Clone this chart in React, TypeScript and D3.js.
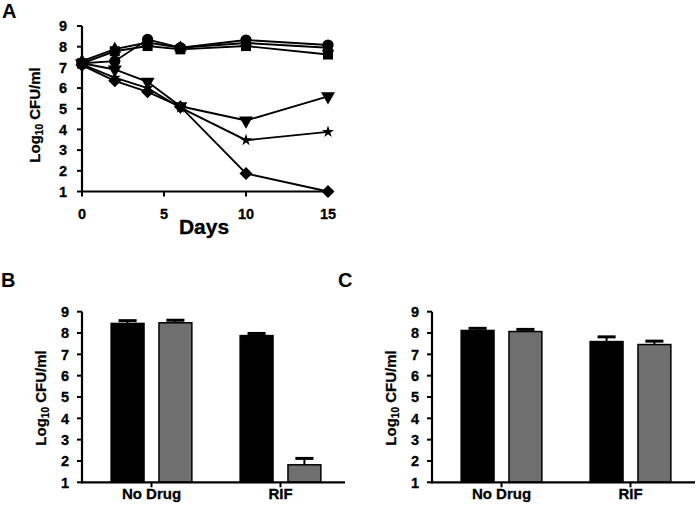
import React from "react";
import * as d3 from "d3";

const days = [0, 2, 4, 6, 10, 15];
const seriesNames = ["circle", "square", "triangleUp", "triangleDown", "star", "diamond"];
const circleVals = [7.2, 7.3, 8.35, 7.95, 8.32, 8.08];
const squareVals = [7.2, 7.78, 8.03, 7.87, 8.03, 7.62];
const triUpVals = [7.3, 7.88, 8.2, 7.95, 8.18, 7.95];
const triDownVals = [7.2, 6.9, 6.3, 5.12, 4.43, 5.6];
const starVals = [7.15, 6.5, 6.0, 5.05, 3.48, 3.88];
const diamondVals = [7.1, 6.35, 5.82, 5.1, 1.87, 1.0];
const allSeries = [circleVals, squareVals, triUpVals, triDownVals, starVals, diamondVals];

const yTicks = [1, 2, 3, 4, 5, 6, 7, 8, 9];
const xTicksA = [0, 5, 10, 15];

const barCategories = ["No Drug", "RIF"];
const bBlack = [8.45, 7.88];
const bBlackErr = [8.58, 7.98];
const bGray = [8.48, 1.82];
const bGrayErr = [8.6, 2.12];
const cBlack = [8.12, 7.6];
const cBlackErr = [8.22, 7.82];
const cGray = [8.07, 7.46];
const cGrayErr = [8.17, 7.62];

const FONT = "Arial, 'Liberation Sans', sans-serif";
const GRAY = "#6f6f6f";

function symbolFor(name: string) {
  switch (name) {
    case "circle": return d3.symbol(d3.symbolCircle, 100)();
    case "square": return d3.symbol(d3.symbolSquare, 100)();
    case "triangleUp": return d3.symbol(d3.symbolTriangle, 70)();
    case "triangleDown": return d3.symbol(d3.symbolTriangle, 85)();
    case "star": return d3.symbol(d3.symbolStar, 45)();
    case "diamond": return d3.symbol(d3.symbolSquare, 85)();
  }
  return "";
}

function YLabel({ x, y }: { x: number; y: number }) {
  return (
    <text
      transform={`translate(${x},${y}) rotate(-90)`}
      textAnchor="middle"
      fontFamily={FONT}
      fontWeight="bold"
      fontSize={15}
      stroke="#000"
      strokeWidth={0.25}
    >
      Log<tspan fontSize={10} dy={3}>10</tspan>
      <tspan dy={-3}> CFU/ml</tspan>
    </text>
  );
}

function YAxis({ y, x, gap }: { y: d3.ScaleLinear<number, number>; x: number; gap: number }) {
  const [r0, r1] = y.range();
  return (
    <g>
      <line x1={x} x2={x} y1={r0 + 1} y2={r1} stroke="#000" strokeWidth={2.2} />
      {yTicks.map((t) => (
        <g key={t}>
          <line x1={x - 5} x2={x} y1={y(t)} y2={y(t)} stroke="#000" strokeWidth={2} />
          <text
            x={x - gap}
            y={y(t)}
            dy="0.36em"
            textAnchor="end"
            fontFamily={FONT}
            fontWeight="bold"
            fontSize={14.5}
            stroke="#000"
            strokeWidth={0.3}
          >
            {t}
          </text>
        </g>
      ))}
    </g>
  );
}

function PanelA() {
  const x = d3.scaleLinear().domain([0, 15]).range([82, 328]);
  const y = d3.scaleLinear().domain([1, 9]).range([191.5, 26]);
  const line = d3
    .line<number>()
    .x((_, i) => x(days[i]))
    .y((v) => y(v));
  return (
    <g>
      <text x={2} y={17.5} fontFamily={FONT} fontWeight="bold" fontSize={20}>A</text>
      <YAxis y={y} x={82} gap={15} />
      <line x1={81} x2={333} y1={y(1)} y2={y(1)} stroke="#000" strokeWidth={2.2} />
      {xTicksA.map((t) => (
        <g key={t}>
          <line x1={x(t)} x2={x(t)} y1={y(1)} y2={y(1) + 5} stroke="#000" strokeWidth={2} />
          <text
            x={x(t)}
            y={218.5}
            textAnchor="middle"
            fontFamily={FONT}
            fontWeight="bold"
            fontSize={14.5}
            stroke="#000"
            strokeWidth={0.3}
          >
            {t}
          </text>
        </g>
      ))}
      <text x={204} y={234} textAnchor="middle" fontFamily={FONT} fontWeight="bold" fontSize={21} stroke="#000" strokeWidth={0.3}>
        Days
      </text>
      <YLabel x={40} y={115} />
      {allSeries.map((vals, si) => (
        <path key={"l" + si} d={line(vals) || ""} fill="none" stroke="#000" strokeWidth={1.9} />
      ))}
      {allSeries.map((vals, si) =>
        vals.map((v, i) => {
          const name = seriesNames[si];
          const rot = name === "triangleDown" ? 180 : name === "diamond" ? 45 : 0;
          return (
            <path
              key={si + "-" + i}
              d={symbolFor(name) || ""}
              transform={`translate(${x(days[i])},${y(v)}) rotate(${rot})`}
              fill="#000"
            />
          );
        })
      )}
    </g>
  );
}

function BarPanel({
  x0,
  x1,
  label,
  labelX,
  black,
  blackErr,
  gray,
  grayErr,
}: {
  x0: number;
  x1: number;
  label: string;
  labelX: number;
  black: number[];
  blackErr: number[];
  gray: number[];
  grayErr: number[];
}) {
  const y = d3.scaleLinear().domain([1, 9]).range([482.3, 311.7]);
  const band = d3.scaleBand<string>().domain(barCategories).range([x0 + 5, x1]).paddingInner(0).paddingOuter(0);
  const sub = d3.scaleBand<string>().domain(["black", "gray"]).range([0, band.bandwidth()]).paddingInner(0.3125).paddingOuter(0.505);
  const bw = sub.bandwidth();
  const cap = bw * 0.55;
  const bars: { cat: string; key: string; v: number; e: number; fill: string }[] = [];
  barCategories.forEach((c, i) => {
    bars.push({ cat: c, key: "black", v: black[i], e: blackErr[i], fill: "#000" });
    bars.push({ cat: c, key: "gray", v: gray[i], e: grayErr[i], fill: GRAY });
  });
  return (
    <g>
      <text x={labelX} y={286.7} fontFamily={FONT} fontWeight="bold" fontSize={20}>{label}</text>
      <YLabel x={x0 - 36} y={398} />
      {bars.map((b, i) => {
        const bx = (band(b.cat) || 0) + (sub(b.key) || 0);
        const cx = bx + bw / 2;
        return (
          <g key={i}>
            <line x1={cx} x2={cx} y1={y(b.v)} y2={y(b.e)} stroke="#000" strokeWidth={2} />
            <line x1={cx - cap / 2} x2={cx + cap / 2} y1={y(b.e)} y2={y(b.e)} stroke="#000" strokeWidth={3} />
            <rect
              x={bx}
              y={y(b.v)}
              width={bw}
              height={y(1) - y(b.v)}
              fill={b.fill}
              stroke="#000"
              strokeWidth={1.5}
            />
          </g>
        );
      })}
      <YAxis y={y} x={x0} gap={13} />
      <line x1={x0 - 1} x2={x1} y1={y(1)} y2={y(1)} stroke="#000" strokeWidth={2.2} />
      {barCategories.map((c) => {
        const cx = (band(c) || 0) + band.bandwidth() / 2;
        return (
          <g key={c}>
            <line x1={cx} x2={cx} y1={y(1)} y2={y(1) + 5} stroke="#000" strokeWidth={2} />
            <text x={cx} y={499} textAnchor="middle" fontFamily={FONT} fontWeight="bold" fontSize={15} stroke="#000" strokeWidth={0.3}>
              {c}
            </text>
          </g>
        );
      })}
    </g>
  );
}

export default function App() {
  return (
    <svg width={700} height={512} style={{ position: "absolute", left: 0, top: 0, background: "#fff" }}>
      <rect width={700} height={512} fill="#fff" />
      <PanelA />
      <BarPanel x0={82} x1={345} label="B" labelX={1} black={bBlack} blackErr={bBlackErr} gray={bGray} grayErr={bGrayErr} />
      <BarPanel x0={432} x1={695} label="C" labelX={338} black={cBlack} blackErr={cBlackErr} gray={cGray} grayErr={cGrayErr} />
    </svg>
  );
}
